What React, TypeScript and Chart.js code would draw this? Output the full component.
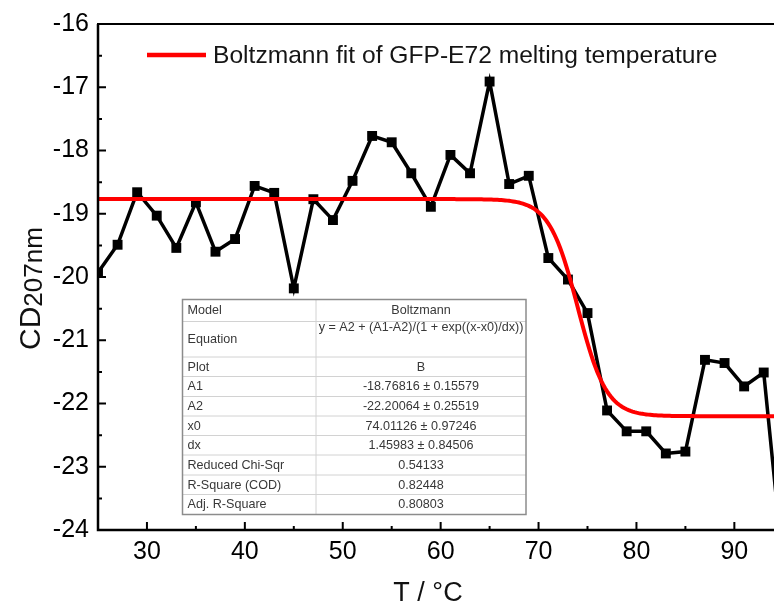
import React, { useEffect, useRef } from "react";
import { Chart, registerables } from "chart.js";

Chart.register(...registerables);

// Measured CD signal at 207 nm versus temperature
const temperatures = [
  25, 27, 29, 31, 33, 35, 37, 39, 41, 43, 45, 47, 49, 51, 53, 55, 57, 59,
  61, 63, 65, 67, 69, 71, 73, 75, 77, 79, 81, 83, 85, 87, 89, 91, 93, 95,
];
const cdValues = [
  -19.93, -19.49, -18.66, -19.03, -19.54, -18.82, -19.6, -19.4, -18.56,
  -18.67, -20.18, -18.77, -19.1, -18.48, -17.77, -17.87, -18.36, -18.89,
  -18.07, -18.36, -16.91, -18.53, -18.4, -19.7, -20.04, -20.57, -22.11,
  -22.44, -22.44, -22.79, -22.76, -21.31, -21.36, -21.73, -21.51, -24.6,
];

// Boltzmann fit parameters
const fitA1 = -18.76816;
const fitA2 = -22.20064;
const fitX0 = 74.01126;
const fitDx = 1.45983;

const xTicks = [30, 40, 50, 60, 70, 80, 90];
const xMinorTicks = [35, 45, 55, 65, 75, 85];
const yTicks = [-24, -23, -22, -21, -20, -19, -18, -17, -16];
const yMinorTicks = [-23.5, -22.5, -21.5, -20.5, -19.5, -18.5, -17.5, -16.5];

const legendLabel = "Boltzmann fit of GFP-E72 melting temperature";
const xTitle = "T / °C";
const yTitleMain = "CD";
const yTitleSub = "207nm";

const tableLabels = [
  "Model",
  "Equation",
  "Plot",
  "A1",
  "A2",
  "x0",
  "dx",
  "Reduced Chi-Sqr",
  "R-Square (COD)",
  "Adj. R-Square",
];
const tableValues = [
  "Boltzmann",
  "y = A2 + (A1-A2)/(1 + exp((x-x0)/dx))",
  "B",
  "-18.76816 ± 0.15579",
  "-22.20064 ± 0.25519",
  "74.01126 ± 0.97246",
  "1.45983 ± 0.84506",
  "0.54133",
  "0.82448",
  "0.80803",
];

const FONT = '"Liberation Sans", Arial, Helvetica, sans-serif';

function boltzmann(t: number) {
  return fitA2 + (fitA1 - fitA2) / (1 + Math.exp((t - fitX0) / fitDx));
}

// Sample the fitted model along the temperature range
const fitCurve: { x: number; y: number }[] = [];
for (let t = 25; t <= 95.001; t += 0.2) {
  fitCurve.push({ x: t, y: boltzmann(t) });
}

const whiteBackground = {
  id: "whiteBackground",
  beforeDraw(chart: any) {
    const { ctx, width, height } = chart;
    ctx.save();
    ctx.fillStyle = "#fff";
    ctx.fillRect(0, 0, width, height);
    ctx.restore();
  },
};

const decorations = {
  id: "decorations",
  afterDatasetsDraw(chart: any) {
    const { ctx, chartArea: a, scales } = chart;
    const xs = scales.x;
    const ys = scales.y;
    ctx.save();

    // frame: left and bottom axes, top border
    ctx.strokeStyle = "#000";
    ctx.lineWidth = 2.5;
    ctx.beginPath();
    ctx.moveTo(a.left, a.top);
    ctx.lineTo(a.left, a.bottom);
    ctx.lineTo(a.right + 2, a.bottom);
    ctx.stroke();
    ctx.lineWidth = 2;
    ctx.beginPath();
    ctx.moveTo(a.left - 1, a.top);
    ctx.lineTo(a.right + 2, a.top);
    ctx.stroke();

    // inward ticks
    ctx.lineWidth = 2;
    ctx.beginPath();
    xTicks.forEach((v) => {
      const px = xs.getPixelForValue(v);
      ctx.moveTo(px, a.bottom);
      ctx.lineTo(px, a.bottom - 8);
    });
    xMinorTicks.forEach((v) => {
      const px = xs.getPixelForValue(v);
      ctx.moveTo(px, a.bottom);
      ctx.lineTo(px, a.bottom - 4);
    });
    yTicks.forEach((v) => {
      const py = ys.getPixelForValue(v);
      ctx.moveTo(a.left, py);
      ctx.lineTo(a.left + 8, py);
    });
    yMinorTicks.forEach((v) => {
      const py = ys.getPixelForValue(v);
      ctx.moveTo(a.left, py);
      ctx.lineTo(a.left + 4, py);
    });
    ctx.stroke();

    // legend
    ctx.strokeStyle = "rgb(255,0,0)";
    ctx.lineWidth = 4.5;
    ctx.beginPath();
    ctx.moveTo(a.left + 49, a.top + 31);
    ctx.lineTo(a.left + 108, a.top + 31);
    ctx.stroke();
    ctx.fillStyle = "#151515";
    ctx.font = `24.6px ${FONT}`;
    ctx.textAlign = "left";
    ctx.textBaseline = "alphabetic";
    ctx.fillText(legendLabel, a.left + 115, a.top + 39);

    // fit summary table
    const tl = a.left + 84.5;
    const tt = a.top + 275.5;
    const colW = [133.5, 210];
    const rowH = [22, 35.5, 19.5, 20, 19.5, 19.5, 19.5, 20, 19.5, 20];
    const tw = colW[0] + colW[1];
    const th = rowH.reduce((s, h) => s + h, 0);
    ctx.fillStyle = "#fff";
    ctx.fillRect(tl, tt, tw, th);
    ctx.strokeStyle = "#d2d2d2";
    ctx.lineWidth = 1;
    ctx.beginPath();
    let yy = tt;
    for (let i = 0; i < rowH.length - 1; i++) {
      yy += rowH[i];
      ctx.moveTo(tl, yy);
      ctx.lineTo(tl + tw, yy);
    }
    ctx.moveTo(tl + colW[0], tt);
    ctx.lineTo(tl + colW[0], tt + th);
    ctx.stroke();
    ctx.strokeStyle = "#8c8c8c";
    ctx.lineWidth = 1.5;
    ctx.strokeRect(tl, tt, tw, th);

    ctx.fillStyle = "#383838";
    ctx.font = `12.6px ${FONT}`;
    ctx.textBaseline = "middle";
    yy = tt;
    for (let i = 0; i < rowH.length; i++) {
      const mid = yy + rowH[i] / 2;
      ctx.textAlign = "left";
      ctx.fillText(tableLabels[i], tl + 5, mid + 0.5);
      ctx.textAlign = "center";
      const vy = i === 1 ? yy + 6.5 : mid + 0.5;
      ctx.fillText(tableValues[i], tl + colW[0] + colW[1] / 2, vy);
      yy += rowH[i];
    }

    // axis titles
    ctx.fillStyle = "#111";
    ctx.textBaseline = "alphabetic";
    ctx.textAlign = "center";
    ctx.font = `27px ${FONT}`;
    ctx.fillText(xTitle, 428, 601);

    ctx.save();
    ctx.translate(40, 350);
    ctx.rotate(-Math.PI / 2);
    ctx.textAlign = "left";
    ctx.font = `30px ${FONT}`;
    ctx.fillText(yTitleMain, 0, 0);
    const w = ctx.measureText(yTitleMain).width;
    ctx.font = `26px ${FONT}`;
    ctx.fillText(yTitleSub, w, 2);
    ctx.restore();

    ctx.restore();
  },
};

export default function App() {
  const canvasRef = useRef<HTMLCanvasElement>(null);

  useEffect(() => {
    const canvas = canvasRef.current;
    if (!canvas) return;
    const chart = new Chart(canvas, {
      type: "line",
      data: {
        datasets: [
          {
            label: legendLabel,
            data: fitCurve,
            borderColor: "rgb(255,0,0)",
            borderWidth: 4,
            pointRadius: 0,
            tension: 0,
          },
          {
            label: "CD207nm",
            data: temperatures.map((t, i) => ({ x: t, y: cdValues[i] })),
            borderColor: "#000",
            borderWidth: 3.5,
            pointStyle: "rect",
            pointRadius: 7,
            pointBackgroundColor: "#000",
            pointBorderColor: "#000",
            pointBorderWidth: 0,
            tension: 0,
          },
        ],
      },
      options: {
        responsive: false,
        animation: false,
        layout: {
          autoPadding: false,
          padding: { top: 24, right: 0, left: 0, bottom: 0 },
        },
        plugins: {
          legend: { display: false },
          tooltip: { enabled: false },
          title: { display: false },
        },
        scales: {
          x: {
            type: "linear",
            min: 25,
            max: 94.05,
            grid: { display: false, drawTicks: false },
            border: { display: false },
            afterBuildTicks: (s: any) => {
              s.ticks = xTicks.map((v) => ({ value: v }));
            },
            afterFit: (s: any) => {
              s.height = 78;
            },
            ticks: {
              color: "#000",
              font: { family: FONT, size: 25 },
              padding: 7,
              maxRotation: 0,
              autoSkip: false,
            },
          },
          y: {
            type: "linear",
            min: -24,
            max: -16,
            grid: { display: false, drawTicks: false },
            border: { display: false },
            afterBuildTicks: (s: any) => {
              s.ticks = yTicks.map((v) => ({ value: v }));
            },
            afterFit: (s: any) => {
              s.width = 98;
            },
            ticks: {
              color: "#000",
              font: { family: FONT, size: 25 },
              padding: 9,
              autoSkip: false,
            },
          },
        },
      },
      plugins: [whiteBackground, decorations],
    });
    return () => chart.destroy();
  }, []);

  return (
    <div
      style={{
        position: "fixed",
        left: 0,
        top: 0,
        width: 774,
        height: 608,
        overflow: "hidden",
        background: "#fff",
      }}
    >
      <canvas ref={canvasRef} width={774} height={608} style={{ display: "block" }} />
    </div>
  );
}
